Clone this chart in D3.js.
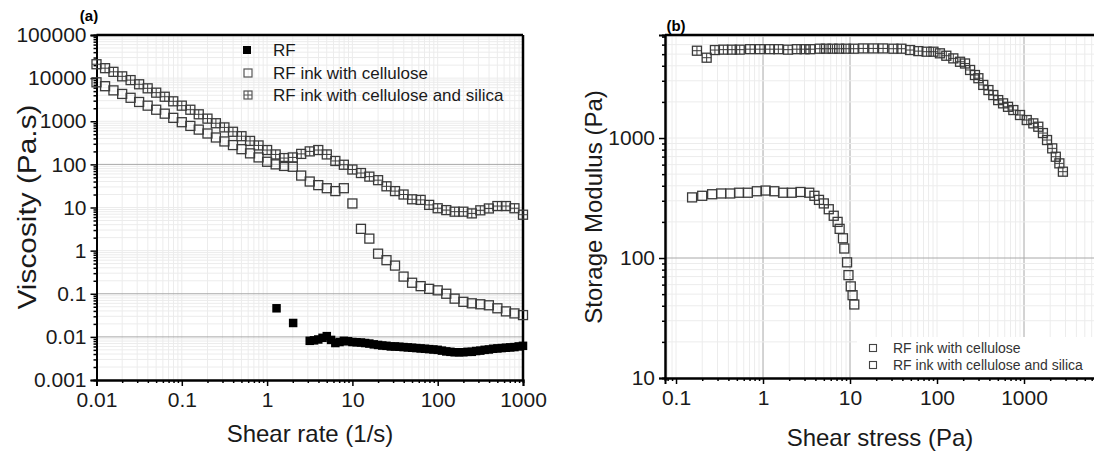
<!DOCTYPE html>
<html><head><meta charset="utf-8">
<script src="https://cdn.jsdelivr.net/npm/d3@7"></script>
<style>
html,body{margin:0;padding:0;background:#fff;}
svg{display:block;font-family:"Liberation Sans",Arial,sans-serif;}
</style></head>
<body>
<svg id="chart" width="1094" height="454"></svg>
<script>
// ---------- Panel (a): viscosity vs shear rate ----------
const shearRate = [0.01,0.0126,0.0158,0.02,0.0251,0.0316,0.0398,0.0501,0.0631,0.0794,0.1,0.126,0.158,0.2,0.251,0.316,0.398,0.501,0.631,0.794,1,1.26,1.58,2,2.51,3.16,3.98,5.01,6.31,7.94,10,12.6,15.8,20,25.1,31.6,39.8,50.1,63.1,79.4,100,126,158,200,251,316,398,501,631,794,1000];
const viscCellSilica = [21000,17000,14000,11000,9000,7200,5800,4600,3700,2900,2300,1850,1450,1150,900,720,570,450,350,275,215,170,140,145,175,200,215,170,120,98,76,63,52,43,31,24,20,15.5,15,11.5,9.6,8.7,8,8,7.3,8.6,9.5,10.8,10.8,9.6,6.8];
const viscCellulose = [8000,6500,5200,4300,3500,2800,2300,1850,1500,1200,950,780,640,520,420,340,280,225,180,145,115,100,92,88,55,40,33,28,24,28,12.4,3.2,1.9,0.85,0.6,0.45,0.25,0.18,0.15,0.13,0.12,0.1,0.077,0.065,0.06,0.057,0.054,0.046,0.039,0.035,0.032];
const rfRate = [1.29,2.02,3.16,3.55,3.98,4.47,5.01,5.62,6.31,7.08,7.94,8.91,10,11.2,12.6,14.1,15.8,17.8,20,22.4,25.1,28.2,31.6,35.5,39.8,44.7,50.1,56.2,63.1,70.8,79.4,89.1,100,112,126,141,158,178,200,224,251,282,316,355,398,447,501,562,631,708,794,891,1000];
const rfVisc = [0.046,0.021,0.0081,0.0083,0.0087,0.0095,0.0104,0.0085,0.0072,0.0076,0.0081,0.0079,0.0076,0.0075,0.0074,0.0072,0.007,0.0067,0.0065,0.0063,0.0062,0.006,0.006,0.0059,0.0058,0.0057,0.0056,0.0055,0.0054,0.0053,0.0052,0.0051,0.005,0.0048,0.0046,0.0045,0.0044,0.0044,0.0044,0.0045,0.0045,0.0047,0.0048,0.005,0.0051,0.0053,0.0054,0.0055,0.0056,0.0057,0.0058,0.006,0.0062];
const aXTicks = [0.01,0.1,1,10,100,1000];
const aXLabels = ["0.01","0.1","1","10","100","1000"];
const aYTicks = [0.001,0.01,0.1,1,10,100,1000,10000,100000];
const aYLabels = ["0.001","0.01","0.1","1","10","100","1000","10000","100000"];
const aLegend = ["RF","RF ink with cellulose","RF ink with cellulose and silica"];

// ---------- Panel (b): storage modulus vs shear stress ----------
const stressCell = [0.153,0.2,0.26,0.33,0.42,0.53,0.67,0.85,1.07,1.35,1.7,2.14,2.7,3.4,3.9,4.4,5.0,5.7,6.5,7.2,7.6,8.3,8.6,9.25,9.6,10.2,10.7,11.2];
const modCell = [320,330,340,345,345,350,350,360,365,360,350,350,355,350,330,305,285,255,225,200,175,146,120,92,72,58,49,41];
const stressSil = [0.174,0.225,0.28,0.35,0.44,0.54,0.71,0.92,1.2,1.5,1.94,2.45,3.0,3.5,4.5,5.3,6.3,7.5,9,11,14.2,18.5,24,31.5,39,49,61,76,91,108,128,154,184,210,240,273,299,340,390,444,505,575,655,754,900,1075,1280,1460,1650,1840,2110,2320,2550,2800];
const modSil = [5340,4670,5410,5450,5450,5450,5500,5500,5500,5500,5450,5500,5500,5500,5550,5550,5550,5550,5550,5550,5580,5580,5580,5550,5550,5410,5300,5240,5240,5080,4850,4610,4320,4180,3690,3350,3150,2770,2510,2280,2070,1945,1820,1710,1555,1412,1325,1242,1100,962,820,698,615,524];
const bXTicks = [0.1,1,10,100,1000];
const bXLabels = ["0.1","1","10","100","1000"];
const bYTicks = [10,100,1000];
const bYLabels = ["10","100","1000"];
const bLegend = ["RF ink with cellulose","RF ink with cellulose and silica"];

const svg = d3.select("#chart");

function minorsFor(lo, hi){
  const out=[];
  for(let e=Math.floor(Math.log10(lo))-1;e<=Math.ceil(Math.log10(hi));e++){
    for(let m=1;m<=9;m++){const v=m*Math.pow(10,e); if(v>=lo*0.999 && v<=hi*1.001) out.push(v);}
  }
  return out;
}

function panel(cfg){
  const g = svg.append("g");
  const x = d3.scaleLog().domain(cfg.xd).range(cfg.xr);
  const y = d3.scaleLog().domain(cfg.yd).range(cfg.yr);
  const clipId = "clip"+cfg.id;
  svg.append("clipPath").attr("id",clipId).append("rect")
    .attr("x",cfg.xr[0]).attr("y",cfg.yr[1]).attr("width",cfg.xr[1]-cfg.xr[0]).attr("height",cfg.yr[0]-cfg.yr[1]);
  const grid = g.append("g").attr("clip-path",`url(#${clipId})`);
  const xm = minorsFor(cfg.xd[0],cfg.xd[1]);
  const ym = minorsFor(cfg.yd[0],cfg.yd[1]);
  const gcol = (d,dark)=> dark.includes(d) ? "#a8a8a8" : "#ececec";
  grid.selectAll(".gx").data(xm).join("line")
    .attr("x1",d=>x(d)).attr("x2",d=>x(d)).attr("y1",cfg.yr[0]).attr("y2",cfg.yr[1])
    .attr("stroke",d=>gcol(d,cfg.darkX)).attr("stroke-width",1);
  grid.selectAll(".gy").data(ym).join("line")
    .attr("y1",d=>y(d)).attr("y2",d=>y(d)).attr("x1",cfg.xr[0]).attr("x2",cfg.xr[1])
    .attr("stroke",d=>gcol(d,cfg.darkY)).attr("stroke-width",1);
  const fmtX = d=>cfg.xLabels[cfg.xTicks.indexOf(d)];
  const fmtY = d=>cfg.yLabels[cfg.yTicks.indexOf(d)];
  const axB = g.append("g").attr("transform",`translate(0,${cfg.yr[0]})`)
    .call(d3.axisBottom(x).tickValues(cfg.xTicks).tickFormat(fmtX).tickSize(6).tickPadding(6));
  g.append("g").attr("transform",`translate(0,${cfg.yr[0]})`)
    .call(d3.axisBottom(x).tickValues(xm.filter(v=>!cfg.xTicks.includes(v))).tickFormat("").tickSize(3));
  const axL = g.append("g").attr("transform",`translate(${cfg.xr[0]},0)`)
    .call(d3.axisLeft(y).tickValues(cfg.yTicks).tickFormat(fmtY).tickSize(6).tickPadding(4));
  g.append("g").attr("transform",`translate(${cfg.xr[0]},0)`)
    .call(d3.axisLeft(y).tickValues(ym.filter(v=>!cfg.yTicks.includes(v))).tickFormat("").tickSize(3));
  g.selectAll(".domain").attr("stroke","#000").attr("stroke-width",2);
  g.selectAll(".tick line").attr("stroke","#000").attr("stroke-width",1.5);
  axB.selectAll("text").attr("font-size",21).attr("fill","#1a1a1a").attr("font-family","Liberation Sans, Arial, sans-serif");
  axL.selectAll("text").attr("font-size",21).attr("fill","#1a1a1a").attr("font-family","Liberation Sans, Arial, sans-serif");
  g.append("line").attr("x1",cfg.xr[0]).attr("x2",cfg.xr[1]).attr("y1",cfg.yr[1]).attr("y2",cfg.yr[1]).attr("stroke","#000").attr("stroke-width",2.5);
  g.append("line").attr("x1",cfg.xr[1]).attr("x2",cfg.xr[1]).attr("y1",cfg.yr[1]).attr("y2",cfg.yr[0]).attr("stroke","#000").attr("stroke-width",2.5);
  return {g,x,y,clipId};
}

function openSquares(g, xs, ys, x, y, s, col){
  g.selectAll(null).data(xs.map((v,i)=>[v,ys[i]])).join("rect")
    .attr("x",d=>x(d[0])-s/2).attr("y",d=>y(d[1])-s/2).attr("width",s).attr("height",s)
    .attr("fill","none").attr("stroke",col).attr("stroke-width",1.3);
}
function crossSquares(g, xs, ys, x, y, s, col){
  const d = xs.map((v,i)=>[v,ys[i]]);
  openSquares(g, xs, ys, x, y, s, col);
  g.selectAll(null).data(d).join("path")
    .attr("d",p=>{const cx=x(p[0]),cy=y(p[1]);return `M${cx-s/2},${cy}H${cx+s/2}M${cx},${cy-s/2}V${cy+s/2}`;})
    .attr("fill","none").attr("stroke",col).attr("stroke-width",1);
}
function filledSquares(g, xs, ys, x, y, s, col){
  g.selectAll(null).data(xs.map((v,i)=>[v,ys[i]])).join("rect")
    .attr("x",d=>x(d[0])-s/2).attr("y",d=>y(d[1])-s/2).attr("width",s).attr("height",s)
    .attr("fill",col);
}

// ----- Panel a -----
const A = panel({id:"a", xd:[0.01,1000], xr:[96.5,523], yd:[0.001,100000], yr:[380,35],
  xTicks:aXTicks, xLabels:aXLabels, yTicks:aYTicks, yLabels:aYLabels,
  darkX:[], darkY:[100,0.1,0.01]});
const aMarks = A.g.append("g");
crossSquares(aMarks, shearRate, viscCellSilica, A.x, A.y, 9, "#3a3a3a");
openSquares(aMarks, shearRate, viscCellulose, A.x, A.y, 9, "#3a3a3a");
filledSquares(aMarks, rfRate, rfVisc, A.x, A.y, 8.5, "#000");

const la = A.g.append("g");
const laY = [50,73,95];
la.append("rect").attr("x",247-4).attr("y",laY[0]-4).attr("width",8).attr("height",8).attr("fill","#000");
la.append("rect").attr("x",248-4).attr("y",laY[1]-4).attr("width",8).attr("height",8).attr("fill","none").attr("stroke","#555").attr("stroke-width",1.2);
la.append("rect").attr("x",248-4).attr("y",laY[2]-4).attr("width",8).attr("height",8).attr("fill","none").attr("stroke","#555").attr("stroke-width",1.2);
la.append("path").attr("d",`M244,${laY[2]}H252M248,${laY[2]-4}V${laY[2]+4}`).attr("stroke","#555").attr("stroke-width",1);
la.selectAll("text").data(aLegend).join("text")
  .attr("x",273).attr("y",(d,i)=>laY[i]).attr("dominant-baseline","central")
  .attr("font-size",17).attr("fill","#1a1a1a").text(d=>d);

svg.append("text").attr("x",89).attr("y",15).attr("text-anchor","middle").attr("dominant-baseline","central")
  .attr("font-size",15).attr("font-weight","bold").text("(a)");
svg.append("text").attr("transform","translate(27,207) rotate(-90)").attr("text-anchor","middle").attr("dominant-baseline","central")
  .attr("font-size",25).attr("textLength",205).attr("lengthAdjust","spacingAndGlyphs").attr("fill","#1a1a1a").text("Viscosity (Pa.s)");
svg.append("text").attr("x",310).attr("y",433).attr("text-anchor","middle").attr("dominant-baseline","central")
  .attr("font-size",24).attr("fill","#1a1a1a").text("Shear rate (1/s)");

// ----- Panel b -----
const B = panel({id:"b", xd:[0.0747,10000], xr:[665,1111], yd:[10,7220], yr:[378,35],
  xTicks:bXTicks, xLabels:bXLabels, yTicks:bYTicks, yLabels:bYLabels,
  darkX:[1,10,1000], darkY:[100]});
const lb = B.g.append("g");
lb.append("rect").attr("x",857).attr("y",337).attr("width",240).attr("height",40).attr("fill","#fff");
const bMarks = B.g.append("g").attr("clip-path",`url(#${B.clipId})`);
openSquares(bMarks, stressCell, modCell, B.x, B.y, 9, "#3a3a3a");
crossSquares(bMarks, stressSil, modSil, B.x, B.y, 9, "#3a3a3a");
const lbY = [348,365];
lb.selectAll("rect.sym").data(bLegend).join("rect").attr("class","sym")
  .attr("x",869.5).attr("y",(d,i)=>lbY[i]-3.5).attr("width",7).attr("height",7)
  .attr("fill","none").attr("stroke","#444").attr("stroke-width",1.1);
lb.selectAll("text").data(bLegend).join("text")
  .attr("x",893).attr("y",(d,i)=>lbY[i]).attr("dominant-baseline","central")
  .attr("font-size",14).attr("fill","#333").text(d=>d);

svg.append("text").attr("x",676).attr("y",25).attr("text-anchor","middle").attr("dominant-baseline","central")
  .attr("font-size",15).attr("font-weight","bold").text("(b)");
svg.append("text").attr("transform","translate(593,207) rotate(-90)").attr("text-anchor","middle").attr("dominant-baseline","central")
  .attr("font-size",24).attr("fill","#1a1a1a").text("Storage Modulus (Pa)");
svg.append("text").attr("x",880).attr("y",437).attr("text-anchor","middle").attr("dominant-baseline","central")
  .attr("font-size",24).attr("fill","#1a1a1a").text("Shear stress (Pa)");
</script>
</body></html>
